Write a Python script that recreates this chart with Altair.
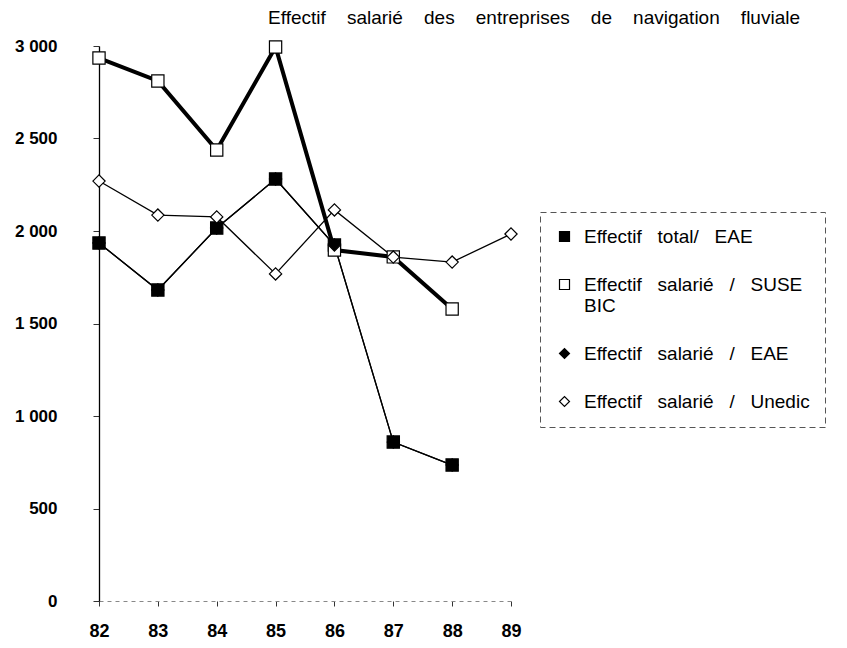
import altair as alt
import pandas as pd

years = [82, 83, 84, 85, 86, 87, 88, 89]
series_names = [
    "Effectif total/ EAE",
    "Effectif salarié / SUSE BIC",
    "Effectif salarié / EAE",
    "Effectif salarié / Unedic",
]
total_eae = [1935, 1681, 2016, 2281, 1924, 859, 735, None]
suse_bic = [2935, 2811, 2438, 2995, 1897, 1860, 1578, None]
salarie_eae = [1935, 1681, 2016, 2281, 1924, 859, 735, None]
unedic = [2270, 2086, 2076, 1768, 2114, 1859, 1832, 1984]

y_ticks = [0, 500, 1000, 1500, 2000, 2500, 3000]
SP = "\u00a0\u00a0 "
TSP = "\u00a0\u00a0\u00a0 "
title_text = TSP.join("Effectif salarié des entreprises de navigation fluviale".split(" "))

rows = []
for name, vals in zip(series_names, [total_eae, suse_bic, salarie_eae, unedic]):
    for yr, v in zip(years, vals):
        if v is not None:
            rows.append({"annee": yr, "valeur": v, "serie": name})
df = pd.DataFrame(rows)

FONT = "Liberation Sans"
THICK = "Effectif salarié / SUSE BIC"

x_enc = alt.X(
    "annee:Q",
    scale=alt.Scale(domain=[82, 89], nice=False, zero=False),
    axis=alt.Axis(
        values=years, format="d", title=None, grid=False, labelFlush=False,
        domainColor="#888", domainDash=[4, 4], domainWidth=1,
        tickColor="#333", tickSize=5, labelPadding=16,
        labelFont=FONT, labelFontSize=18, labelFontWeight="bold",
        labelColor="black",
    ),
)
y_enc = alt.Y(
    "valeur:Q",
    scale=alt.Scale(domain=[0, 3000], nice=False),
    axis=alt.Axis(
        values=y_ticks, title=None, grid=False, labelFlush=False,
        labelExpr="replace(format(datum.value, ','), ',', '\u00a0')",
        domainColor="black", domainWidth=1.3,
        tickColor="#333", tickSize=6, labelPadding=36,
        labelFont=FONT, labelFontSize=17, labelFontWeight="bold",
        labelColor="black",
    ),
)

label_expr = (
    "datum.label == 'Effectif salarié / SUSE BIC' "
    "? ['Effectif" + SP + "salarié" + SP + "/" + SP + "SUSE', 'BIC'] "
    ": replace(datum.label, / /g, '" + SP + "')"
)

base = alt.Chart(df)

thin_lines = base.transform_filter(alt.datum.serie != THICK).mark_line(
    color="black", strokeWidth=1.3
).encode(x=x_enc, y=y_enc, detail="serie:N")

thick_line = base.transform_filter(alt.datum.serie == THICK).mark_line(
    color="black", strokeWidth=4
).encode(x="annee:Q", y="valeur:Q")

leg = alt.Legend(title=None, labelExpr=label_expr)

points = base.mark_point(
    filled=False, strokeWidth=1.2, opacity=1, size=150
).encode(
    x="annee:Q",
    y="valeur:Q",
    shape=alt.Shape(
        "serie:N",
        scale=alt.Scale(domain=series_names,
                        range=["square", "square", "diamond", "diamond"]),
        legend=leg,
    ),
    fill=alt.Fill(
        "serie:N",
        scale=alt.Scale(domain=series_names,
                        range=["black", "white", "black", "white"]),
        legend=leg,
    ),
    stroke=alt.Stroke(
        "serie:N",
        scale=alt.Scale(domain=series_names,
                        range=["black", "black", "black", "black"]),
        legend=leg,
    ),
)

chart = (
    alt.layer(thin_lines, thick_line, points)
    .properties(
        width=412,
        height=555,
        autosize=alt.AutoSizeParams(type="none"),
        padding={"left": 91, "top": 38, "right": 320, "bottom": 39},
        title=alt.TitleParams(
            title_text,
            anchor="end", frame="group", dx=289, offset=9,
            font=FONT, fontSize=19, fontWeight="normal", color="black",
        ),
    )
    .configure_view(stroke=None)
    .configure_legend(
        orient="none", legendX=441, legendY=166,
        padding=15, strokeColor="#555", strokeDash=[6, 4],
        labelFont=FONT, labelFontSize=19, labelColor="black",
        labelLimit=0, rowPadding=28, symbolSize=100,
        symbolStrokeColor="black", symbolStrokeWidth=1.2,
        labelOffset=10,
    )
)

chart.save("out.html", embed_options={"renderer": "svg", "actions": False})
